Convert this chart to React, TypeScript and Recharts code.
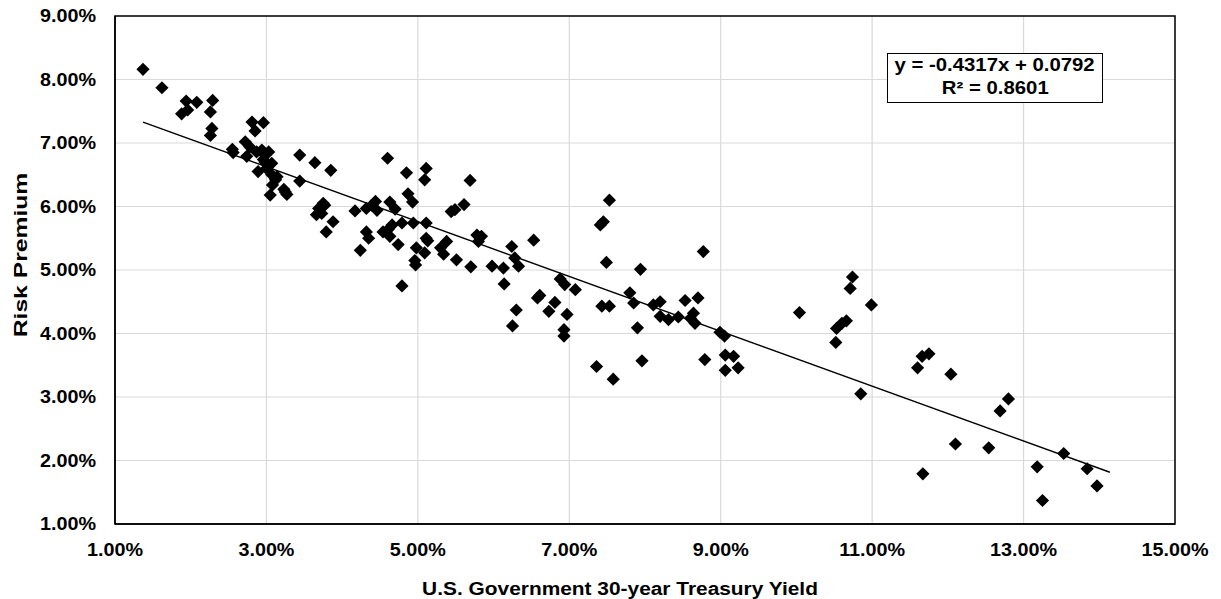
import React from 'react';
import {
  ScatterChart,
  Scatter,
  XAxis,
  YAxis,
  CartesianGrid,
  ReferenceLine,
  ReferenceArea,
} from 'recharts';

// U.S. Government 30-year Treasury yield (%)
const treasuryYield = [
  1.37, 1.62, 1.94, 2.08, 2.29, 1.88, 1.96, 2.26, 2.28, 2.26,
  2.81, 2.96, 2.85, 2.55, 2.56, 2.72, 2.74, 2.78, 2.87, 2.94,
  2.98, 3.03, 2.89, 3.0, 2.98, 3.07, 3.12, 3.08, 3.14, 3.05,
  3.25, 3.27, 3.23, 3.44, 3.64, 3.85, 3.44, 3.07, 2.96, 3.77,
  3.75, 3.69, 3.66, 3.73, 3.88, 3.79, 4.17, 4.32, 4.39, 4.44,
  4.46, 4.63, 4.7, 4.87, 4.93, 4.6, 4.85, 5.11, 5.09, 5.69,
  5.44, 5.49, 5.61, 4.32, 4.35, 4.54, 4.61, 4.63, 4.66, 4.79,
  4.94, 5.11, 4.24, 4.74, 5.11, 5.13, 4.98, 5.09, 4.96, 4.97,
  5.3, 5.38, 5.34, 5.51, 5.7, 5.78, 5.84, 5.8, 4.79, 5.98,
  6.13, 6.24, 6.28, 6.33, 6.14, 6.3, 6.25, 6.53, 6.58, 6.61,
  6.73, 6.81, 6.88, 6.94, 7.08, 6.97, 6.93, 6.93, 7.36, 7.41,
  7.45, 7.53, 7.49, 7.43, 7.53, 7.58, 7.8, 7.85, 7.9, 7.94,
  7.96, 8.11, 8.2, 8.2, 8.31, 8.44, 8.53, 8.6, 8.64, 8.66,
  8.7, 8.77, 8.79, 8.99, 9.05, 9.06, 9.17, 9.06, 9.23, 10.04,
  10.74, 10.71, 10.99, 10.53, 10.6, 10.66, 10.52, 10.85, 11.66, 11.75,
  11.6, 12.04, 12.8, 12.69, 12.1, 12.54, 11.67, 13.53, 13.18, 13.25,
  13.84, 13.97,
];

// Risk premium (%)
const riskPremium = [
  8.16, 7.87, 7.66, 7.64, 7.67, 7.46, 7.52, 7.49, 7.23, 7.12,
  7.33, 7.32, 7.19, 6.9, 6.85, 7.02, 6.79, 6.94, 6.86, 6.89,
  6.81, 6.86, 6.55, 6.6, 6.7, 6.5, 6.42, 6.34, 6.47, 6.18,
  6.23, 6.19, 6.27, 6.81, 6.69, 6.57, 6.4, 6.68, 6.74, 6.02,
  6.05, 5.97, 5.87, 5.89, 5.76, 5.6, 5.93, 5.97, 6.02, 6.08,
  5.94, 6.07, 5.96, 6.2, 6.07, 6.76, 6.53, 6.6, 6.42, 6.41,
  5.92, 5.95, 6.03, 5.6, 5.5, 5.6, 5.64, 5.53, 5.71, 5.74,
  5.74, 5.74, 5.31, 5.4, 5.5, 5.46, 5.35, 5.27, 5.15, 5.08,
  5.35, 5.45, 5.25, 5.16, 5.05, 5.55, 5.53, 5.45, 4.75, 5.06,
  5.03, 5.37, 5.19, 5.06, 4.78, 4.37, 4.12, 5.47, 4.56, 4.6,
  4.35, 4.49, 4.86, 4.77, 4.69, 4.3, 4.06, 3.96, 3.48, 5.71,
  5.76, 6.1, 5.12, 4.43, 4.43, 3.28, 4.64, 4.48, 4.09, 5.01,
  3.57, 4.45, 4.5, 4.27, 4.22, 4.26, 4.52, 4.24, 4.32, 4.16,
  4.56, 5.29, 3.59, 4.02, 3.96, 3.66, 3.64, 3.42, 3.46, 4.33,
  4.89, 4.71, 4.45, 4.08, 4.16, 4.2, 3.86, 3.05, 3.64, 3.68,
  3.46, 3.36, 2.97, 2.78, 2.26, 2.2, 1.79, 2.11, 1.9, 1.37,
  1.87, 1.6,
];

const xTicks = [1, 3, 5, 7, 9, 11, 13, 15];
const yTicks = [1, 2, 3, 4, 5, 6, 7, 8, 9];

// Linear trendline (in percent units): y = -0.4317x + 7.92
const trendSlope = -0.4317;
const trendIntercept = 7.92;
const trendRange = [1.37, 14.14];
const equationLine = 'y = -0.4317x + 0.0792';
const r2Line = 'R² = 0.8601';
const xTitle = 'U.S. Government 30-year Treasury Yield';
const yTitle = 'Risk Premium';

const data = treasuryYield.map((x, i) => ({ x, y: riskPremium[i] }));
const trendSegment = trendRange.map((x) => ({ x, y: trendSlope * x + trendIntercept }));

const FONT = '"Liberation Sans", Arial, Helvetica, sans-serif';
const SX = 1.13;
const fmt = (v: number) => `${v.toFixed(2)}%`;

const XTick = (props: any) => {
  const { x, y, payload } = props;
  return (
    <g transform={`translate(${x},${y})`}>
      <text
        transform={`scale(${SX},1)`}
        textAnchor="middle"
        dy="0.716em"
        fontFamily={FONT}
        fontWeight="bold"
        fontSize={17.5}
        fill="#000"
      >
        {fmt(payload.value)}
      </text>
    </g>
  );
};

const YTick = (props: any) => {
  const { x, y, payload } = props;
  return (
    <g transform={`translate(${x},${y})`}>
      <text
        transform={`scale(${SX},1)`}
        textAnchor="end"
        dy="0.36em"
        fontFamily={FONT}
        fontWeight="bold"
        fontSize={17.5}
        fill="#000"
      >
        {fmt(payload.value)}
      </text>
    </g>
  );
};

const Diamond = (props: any) => {
  const { cx, cy } = props;
  const r = 6.6;
  return (
    <path
      d={`M${cx},${cy - r}L${cx + r},${cy}L${cx},${cy + r}L${cx - r},${cy}Z`}
      fill="#000"
    />
  );
};

const XTitle = () => (
  <g transform="translate(620,595) scale(1.13,1)">
    <text textAnchor="middle" fontFamily={FONT} fontWeight="bold" fontSize={18.5} fill="#000">
      {xTitle}
    </text>
  </g>
);

const YTitle = () => (
  <g transform="translate(20,255) rotate(-90) scale(1.3,1)">
    <text textAnchor="middle" dy="0.36em" fontFamily={FONT} fontWeight="bold" fontSize={19} fill="#000">
      {yTitle}
    </text>
  </g>
);

export default function App() {
  return (
    <div style={{ position: 'absolute', left: 0, top: 0, width: 1221, height: 599, background: '#fff' }}>
      <ScatterChart
        width={1221}
        height={599}
        margin={{ top: 16, right: 46, bottom: 0, left: 0 }}
      >
        <CartesianGrid stroke="#d9d9d9" strokeWidth={1.2} />
        <XAxis
          type="number"
          dataKey="x"
          domain={[1, 15]}
          allowDataOverflow
          ticks={xTicks}
          interval={0}
          height={75}
          tickLine={false}
          tickSize={0}
          tickMargin={19}
          axisLine={{ stroke: '#000', strokeWidth: 1.5 }}
          tick={<XTick />}
          label={{ content: () => <XTitle /> }}
        />
        <YAxis
          type="number"
          dataKey="y"
          domain={[1, 9]}
          allowDataOverflow
          ticks={yTicks}
          interval={0}
          width={115}
          tickLine={false}
          tickSize={0}
          tickMargin={19}
          axisLine={{ stroke: '#000', strokeWidth: 1.5 }}
          tick={<YTick />}
          label={{ content: () => <YTitle /> }}
        />
        <Scatter data={data} fill="#000" shape={Diamond} isAnimationActive={false} />
        <ReferenceLine segment={trendSegment} stroke="#000" strokeWidth={1.5} ifOverflow="visible" />
        <ReferenceArea x1={1} x2={15} y1={1} y2={9} fill="none" stroke="#000" strokeWidth={1.5} />
      </ScatterChart>
      <div
        style={{
          position: 'absolute',
          left: 887,
          top: 53,
          width: 216,
          height: 50,
          boxSizing: 'border-box',
          border: '1.5px solid #000',
          background: '#fff',
          fontFamily: FONT,
          fontWeight: 700,
          fontSize: 18,
          textAlign: 'center',
          lineHeight: '23px',
          color: '#000',
        }}
      >
        <div>
          <span style={{ display: 'inline-block', transform: `scaleX(${SX})` }}>{equationLine}</span>
        </div>
        <div>
          <span style={{ display: 'inline-block', transform: `scaleX(${SX})` }}>{r2Line}</span>
        </div>
      </div>
    </div>
  );
}
